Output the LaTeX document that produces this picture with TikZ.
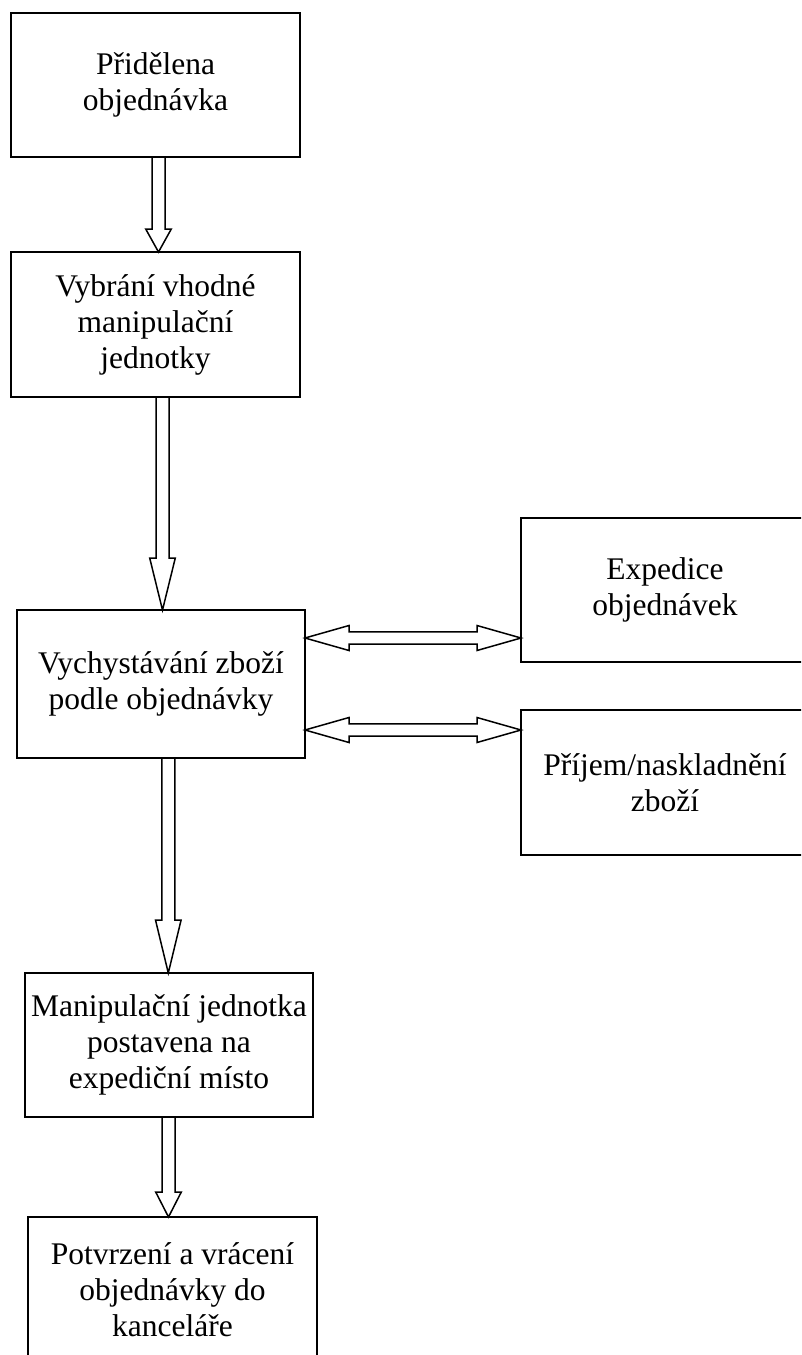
\documentclass[tikz,border=0pt]{standalone}
\usepackage{fontspec}
\setmainfont{Liberation Serif}
\usetikzlibrary{calc}
\tikzset{
  box/.style={draw, line width=1.8pt, inner sep=0pt, outer sep=0pt, align=center,
    font=\fontsize{31.5}{36}\selectfont},
  blk/.style={draw, line width=1.5pt, fill=white, line join=miter},
}
\newcommand\blockdown[3]{%
  \draw[blk] ($(#1)+(-6.5,0)$) -- ($(#2)+(-6.5,-#3)$) -- ($(#2)+(-12.8,-#3)$) -- (#2)
    -- ($(#2)+(12.8,-#3)$) -- ($(#2)+(6.5,-#3)$) -- ($(#1)+(6.5,0)$) -- cycle;}
\newcommand\blockboth[2]{%
  \draw[blk] (#1) -- ($(#1)+(44,-12.5)$) -- ($(#1)+(44,-6.2)$) -- ($(#2)+(-44,-6.2)$)
    -- ($(#2)+(-44,-12.5)$) -- (#2) -- ($(#2)+(-44,12.5)$) -- ($(#2)+(-44,6.2)$)
    -- ($(#1)+(44,6.2)$) -- ($(#1)+(44,12.5)$) -- cycle;}
\begin{document}
\begin{tikzpicture}[x=1pt,y=-1pt]
\useasboundingbox (0,0) rectangle (801,1355);
\clip (0,0) rectangle (801,1355);
\fill[white] (0,0) rectangle (801,1355);

\node[box, minimum width=289pt, minimum height=144pt] (b1) at (155.5,85) {Přidělena\\objednávka};
\node[box, minimum width=289pt, minimum height=145pt] (b2) at (155.5,324.5) {Vybrání vhodné\\manipulační\\jednotky};
\node[box, minimum width=288pt, minimum height=148pt] (b3) at (161,684) {Vychystávání zboží\\podle objednávky};
\node[box, minimum width=288pt, minimum height=144pt] (b4) at (665,590) {Expedice\\objednávek};
\node[box, minimum width=288pt, minimum height=145pt] (b5) at (665,782.5) {Příjem/naskladnění\\zboží};
\node[box, minimum width=288pt, minimum height=144pt] (b6) at (169,1045) {Manipulační jednotka\\postavena na\\expediční místo};
\node[box, minimum width=289pt, minimum height=145pt] (b7) at (172.5,1289.5) {Potvrzení a vrácení\\objednávky do\\kanceláře};

% vertical block arrows
\path (b1.south) ++(3,0) coordinate (a1s);
\path (b2.north) ++(3,0) coordinate (a1e);
\blockdown{a1s}{a1e}{23}

\path (b2.south) ++(7,0) coordinate (a2s);
\path (b3.north) ++(1.5,0) coordinate (a2e);
\blockdown{a2s}{a2e}{52}

\path (b3.south) ++(7.3,0) coordinate (a3s);
\path (b6.north) ++(-0.7,0) coordinate (a3e);
\blockdown{a3s}{a3e}{53}

\path (b6.south) ++(-0.5,0) coordinate (a4s);
\path (b7.north) ++(-4,0) coordinate (a4e);
\blockdown{a4s}{a4e}{25}

% horizontal double block arrows
\coordinate (y1) at (0,638);
\coordinate (y2) at (0,730);
\coordinate (h1l) at (b3.east |- y1);
\coordinate (h1r) at (b4.west |- y1);
\coordinate (h2l) at (b3.east |- y2);
\coordinate (h2r) at (b5.west |- y2);
\blockboth{h1l}{h1r}
\blockboth{h2l}{h2r}
\end{tikzpicture}
\end{document}
